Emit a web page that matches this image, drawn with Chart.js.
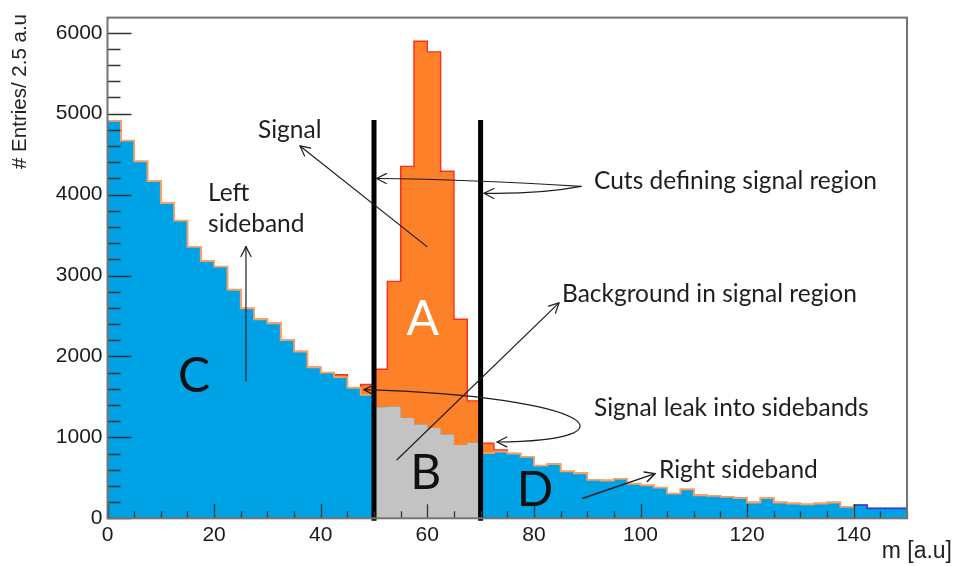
<!DOCTYPE html>
<html>
<head>
<meta charset="utf-8">
<script src="https://cdn.jsdelivr.net/npm/chart.js@4.4.1/dist/chart.umd.min.js"></script>
<style>
  html, body { margin: 0; padding: 0; background: #fff; }
  canvas { display: block; }
</style>
</head>
<body>
<canvas id="chart" width="956" height="566"></canvas>
<script>
// Histogram binning: 60 bins of 2.5 from 0 to 150
const binStart = 0;
const binWidth = 2.5;

// Background entries per bin (blue in sidebands, grey inside the signal window)
const background = [
  4910, 4666, 4410, 4166, 3894, 3678, 3353, 3178, 3110, 2824,
  2593, 2459, 2410, 2202, 2061, 1866, 1800, 1745, 1613, 1524,
  1373, 1380, 1239, 1158, 1117, 1036,  906,  934,  805,  825,
   800,  760,  650,  670,  580,  556,  475,  467,  488,  427,
   406,  378,  305,  357,  284,  278,  264,  250,  195,  251,
   195,  183,  171,  183,  195,  142,  162,  122,  122,  122
];

// Signal entries per bin (orange, stacked on the background)
const signal = [
     0,    0,    0,    0,    0,    0,    0,    0,    0,    0,
     0,    0,    0,    0,    0,    0,    0,   28,    0,  130,
   468, 1547, 3110, 4736, 4646, 3252, 1553,  517,  122,   20,
     0,    0,    0,    0,    0,    0,    0,    0,    0,    0,
     0,    0,    0,    0,    0,    0,    0,    0,    0,    0,
     0,    0,    0,    0,    0,    0,    0,    0,    0,    0
];

// Signal window cuts and their drawn height
const cutPositions = [50, 70];
const cutHeight = 4890;

// Axis ranges and ticks
const xRange = [0, 150];
const yRange = [0, 6187];
const xTickLabels = [0, 20, 40, 60, 80, 100, 120, 140];
const yTickLabels = [0, 1000, 2000, 3000, 4000, 5000, 6000];
const xMinorStep = 5;
const yMinorStep = 200;

const xTitle = 'm [a.u]';
const yTitle = '# Entries/ 2.5 a.u';

// ---------------------------------------------------------------
const total = background.map((b, i) => b + signal[i]);

// Step points at bin left edges, closed with the upper edge of the last bin
function stepPoints(values, from, to) {
  const pts = [];
  values.forEach((v, i) => {
    const x = binStart + i * binWidth;
    if (x >= from && x < to) pts.push({ x, y: v });
  });
  const last = pts[pts.length - 1];
  pts.push({ x: last.x + binWidth, y: last.y });
  return pts;
}

const totalPts = stepPoints(total, xRange[0], xRange[1]);
const bkgPts = stepPoints(background, xRange[0], xRange[1]);
const windowPts = stepPoints(background, cutPositions[0], cutPositions[1]);

const BLUE = '#00a2e6';
const ORANGE = '#fd8128';
const RED = '#ff2a1c';
const EDGE = '#f7a062';
const GREY = '#c3c3c3';

const datasets = [
  ...cutPositions.map(c => ({
    data: [{ x: c, y: 0 }, { x: c, y: cutHeight }],
    borderColor: '#000',
    borderWidth: 5,
    borderCapStyle: 'square',
    pointRadius: 0,
    fill: false,
    clip: false,
    order: 0
  })),
  {
    data: windowPts,
    stepped: 'before',
    backgroundColor: GREY,
    borderWidth: 0,
    borderColor: 'rgba(0,0,0,0)',
    pointRadius: 0,
    fill: 'origin',
    order: 1
  },
  {
    data: bkgPts,
    stepped: 'before',
    backgroundColor: BLUE,
    borderWidth: 1.8,
    pointRadius: 0,
    fill: 'origin',
    segment: {
      borderColor: ctx => {
        const x = bkgPts[ctx.p0DataIndex].x;
        if (x >= cutPositions[0] && x < cutPositions[1]) return 'rgba(0,0,0,0)';
        if (x >= 140) return '#3a3fe0';
        return EDGE;
      }
    },
    order: 2
  },
  {
    data: totalPts,
    stepped: 'before',
    backgroundColor: ORANGE,
    borderColor: RED,
    borderWidth: 1.4,
    pointRadius: 0,
    fill: 'origin',
    order: 3
  }
];

// Inward tick marks, frame and axis titles
const frameAndTicks = {
  id: 'frameAndTicks',
  afterDatasetsDraw(chart) {
    const { ctx, chartArea: a, scales: { x, y } } = chart;
    ctx.save();
    ctx.strokeStyle = '#333';
    ctx.lineWidth = 1.3;
    ctx.beginPath();
    for (let v = yRange[0]; v <= yRange[1]; v += yMinorStep) {
      const py = Math.round(y.getPixelForValue(v)) + 0.5;
      const len = yTickLabels.includes(v) ? 24 : 13;
      ctx.moveTo(a.left, py);
      ctx.lineTo(a.left + len, py);
    }
    for (let v = xRange[0]; v <= xRange[1]; v += xMinorStep) {
      const px = Math.round(x.getPixelForValue(v)) + 0.5;
      const len = xTickLabels.includes(v) ? 14 : 7;
      ctx.moveTo(px, a.bottom);
      ctx.lineTo(px, a.bottom - len);
    }
    ctx.stroke();
    ctx.strokeStyle = '#747474';
    ctx.lineWidth = 2;
    ctx.strokeRect(a.left, a.top, a.right - a.left, a.bottom - a.top);
    ctx.restore();
  },
  afterDraw(chart) {
    const { ctx } = chart;
    ctx.save();
    ctx.fillStyle = '#222';
    ctx.font = '20.5px "Liberation Sans", Arial, sans-serif';
    ctx.translate(20, 14);
    ctx.rotate(-Math.PI / 2);
    ctx.textAlign = 'right';
    ctx.textBaseline = 'middle';
    ctx.fillText(yTitle, 0, 0);
    ctx.restore();
    ctx.save();
    ctx.fillStyle = '#222';
    ctx.font = '23px "Liberation Sans", Arial, sans-serif';
    ctx.textAlign = 'right';
    ctx.textBaseline = 'middle';
    ctx.fillText(xTitle, 952, 552);
    ctx.restore();
  }
};

// Explanatory labels and arrows, placed in data coordinates
const notes = [
  { text: 'Signal', x: 28.24, y: 4796 },
  { text: 'Left', x: 18.86, y: 4016 },
  { text: 'sideband', x: 18.86, y: 3638 },
  { text: 'Cuts defining signal region', x: 91.28, y: 4162 },
  { text: 'Background in signal region', x: 85.27, y: 2772 },
  { text: 'Signal leak into sidebands', x: 91.28, y: 1357 },
  { text: 'Right sideband', x: 103.47, y: 601 }
];
const regionLetters = [
  { text: 'A', x: 59.14, y: 2451, color: '#ffffff' },
  { text: 'B', x: 59.70, y: 549, color: '#111' },
  { text: 'C', x: 16.23, y: 1748, color: '#111' },
  { text: 'D', x: 80.21, y: 345, color: '#111' }
];

function arrowHead(ctx, tx, ty, fx, fy, size) {
  const ang = Math.atan2(ty - fy, tx - fx);
  const w = 0.47;
  ctx.beginPath();
  ctx.moveTo(tx - size * Math.cos(ang - w), ty - size * Math.sin(ang - w));
  ctx.lineTo(tx, ty);
  ctx.lineTo(tx - size * Math.cos(ang + w), ty - size * Math.sin(ang + w));
  ctx.stroke();
}

const annotations = {
  id: 'annotations',
  afterDraw(chart) {
    const { ctx, scales: { x, y } } = chart;
    const P = (dx, dy) => [x.getPixelForValue(dx), y.getPixelForValue(dy)];
    ctx.save();
    ctx.strokeStyle = '#1e1e1e';
    ctx.lineWidth = 1.2;
    ctx.lineCap = 'round';
    ctx.lineJoin = 'round';

    const straight = (from, to) => {
      const [x0, y0] = P(...from), [x1, y1] = P(...to);
      ctx.beginPath(); ctx.moveTo(x0, y0); ctx.lineTo(x1, y1); ctx.stroke();
      arrowHead(ctx, x1, y1, x0, y0, 11);
    };
    // Signal
    straight([59.94, 3357], [36.12, 4601]);
    // Left sideband
    straight([25.98, 1699], [25.98, 3357]);
    // Background in signal region
    straight([54.32, 723], [84.71, 2662]);
    // Right sideband
    ctx.lineWidth = 1.5;
    straight([89.21, 247], [102.72, 552]);
    ctx.lineWidth = 1.2;

    // Cuts defining signal region: two curved arrows from one origin
    const o = P(88.84, 4101);
    const cu = P(68.01, 4187), tu = P(50.47, 4199);
    const cl = P(81.14, 4004), tl = P(70.64, 4016);
    ctx.beginPath(); ctx.moveTo(...o); ctx.quadraticCurveTo(...cu, ...tu); ctx.stroke();
    arrowHead(ctx, ...tu, ...cu, 11);
    ctx.beginPath(); ctx.moveTo(...o); ctx.quadraticCurveTo(...cl, ...tl); ctx.stroke();
    arrowHead(ctx, ...tl, ...cl, 11);

    // Signal leak into sidebands: loop with heads at both ends
    const s = P(48.12, 1590), c1 = P(92.4, 1504), c2 = P(99.91, 955), e = P(73.08, 943);
    ctx.beginPath(); ctx.moveTo(...s); ctx.bezierCurveTo(...c1, ...c2, ...e); ctx.stroke();
    arrowHead(ctx, ...s, ...c1, 11);
    arrowHead(ctx, ...e, ...c2, 11);

    // Text labels
    ctx.fillStyle = '#1e1e1e';
    ctx.font = '24.5px Lato, "Open Sans", sans-serif';
    ctx.textAlign = 'left';
    ctx.textBaseline = 'middle';
    notes.forEach(n => { const [px, py] = P(n.x, n.y); ctx.fillText(n.text, px, py); });

    ctx.font = '48px Lato, "Open Sans", sans-serif';
    ctx.textAlign = 'center';
    regionLetters.forEach(n => {
      const [px, py] = P(n.x, n.y);
      ctx.fillStyle = n.color;
      ctx.fillText(n.text, px, py);
    });
    ctx.restore();
  }
};

const tickFont = { family: '"Liberation Sans", Arial, sans-serif', size: 21 };

new Chart(document.getElementById('chart'), {
  type: 'line',
  data: { datasets },
  options: {
    responsive: false,
    animation: false,
    devicePixelRatio: 1,
    layout: { padding: { left: 0, top: 11, right: 49, bottom: 0 } },
    plugins: { legend: { display: false }, tooltip: { enabled: false } },
    elements: { line: { tension: 0 } },
    scales: {
      x: {
        type: 'linear',
        min: xRange[0],
        max: xRange[1],
        grid: { display: false, drawTicks: false },
        border: { display: false },
        ticks: {
          font: tickFont, color: '#1a1a1a', padding: 4,
          maxRotation: 0, autoSkip: false,
          callback: v => String(v)
        },
        afterBuildTicks: s => { s.ticks = xTickLabels.map(v => ({ value: v })); },
        afterFit: s => { s.height = 47.7; }
      },
      y: {
        type: 'linear',
        min: yRange[0],
        max: yRange[1],
        grid: { display: false, drawTicks: false },
        border: { display: false },
        ticks: {
          font: tickFont, color: '#1a1a1a', padding: 5,
          autoSkip: false,
          callback: v => String(v)
        },
        afterBuildTicks: s => { s.ticks = yTickLabels.map(v => ({ value: v })); },
        afterFit: s => { s.width = 107.5; }
      }
    }
  },
  plugins: [frameAndTicks, annotations]
});
</script>
</body>
</html>
